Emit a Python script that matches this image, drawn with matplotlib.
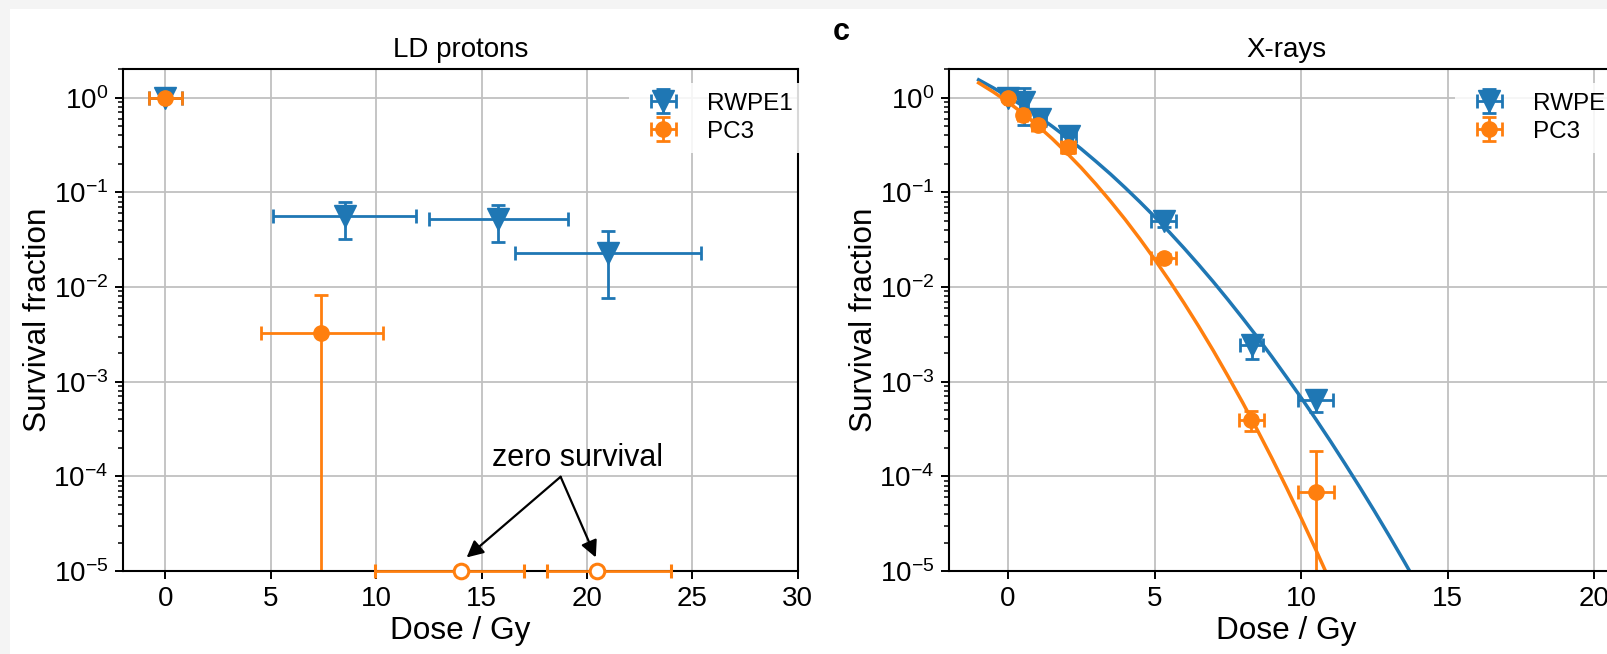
import matplotlib
matplotlib.use("Agg")
import matplotlib.pyplot as plt
from matplotlib.patches import Rectangle

plt.rcParams['font.family'] = ['Liberation Sans', 'DejaVu Sans']
plt.rcParams['mathtext.fontset'] = 'custom'
plt.rcParams['mathtext.rm'] = 'Liberation Sans'

BLUE = '#1f77b4'
ORANGE = '#ff7f0e'

# LD protons, RWPE1
ld_rwpe_dose = [0.0, 8.5, 15.8, 21.0]
ld_rwpe_sf = [1.0, 0.056, 0.052, 0.023]
ld_rwpe_xlo = [0.8, 3.38, 3.31, 4.4]
ld_rwpe_xhi = [0.8, 3.38, 3.28, 4.4]
ld_rwpe_ylo = [0.05, 0.024, 0.022, 0.0153]
ld_rwpe_yhi = [0.05, 0.023, 0.022, 0.0158]

# LD protons, PC3
ld_pc3_dose = [0.0, 7.4]
ld_pc3_sf = [1.0, 0.0033]
ld_pc3_xlo = [0.79, 2.86]
ld_pc3_xhi = [0.79, 2.91]
ld_pc3_ylo = [0.05, 0.0033]
ld_pc3_yhi = [0.05, 0.005]

# LD protons, PC3 with zero survival (drawn on the axis floor)
zero_dose = [14.0, 20.46]
zero_sf = [1e-5, 1e-5]
zero_xlo = [4.05, 2.36]
zero_xhi = [3.0, 3.53]

# X-rays, RWPE1
xr_rwpe_dose = [0.0, 0.55, 1.1, 2.07, 5.31, 8.31, 10.5]
xr_rwpe_sf = [1.0, 0.90, 0.60, 0.39, 0.0495, 0.00245, 0.00064]
xr_rwpe_xerr = [0.1, 0.15, 0.2, 0.25, 0.43, 0.4, 0.6]
xr_rwpe_ylo = [0.08, 0.38, 0.1, 0.06, 0.006, 0.0007, 0.00016]
xr_rwpe_yhi = [0.08, 0.38, 0.1, 0.06, 0.006, 0.0005, 0.0001]

# X-rays, PC3
xr_pc3_dose = [0.0, 0.51, 1.01, 2.05, 5.31, 8.3, 10.5]
xr_pc3_sf = [1.0, 0.655, 0.51, 0.30, 0.0202, 0.00039, 6.8e-5]
xr_pc3_xerr = [0.1, 0.15, 0.2, 0.25, 0.42, 0.42, 0.62]
xr_pc3_ylo = [0.06, 0.06, 0.05, 0.04, 0.002, 0.00009, 6.8e-5]
xr_pc3_yhi = [0.06, 0.06, 0.05, 0.04, 0.002, 0.0001, 0.000119]

# fitted survival curves
fit_rwpe_dose = [-1, -0.5, 0, 0.5, 1, 1.5, 2, 2.5, 3, 3.5, 4, 4.5, 5, 5.5,
                 6, 6.5, 7, 7.5, 8, 8.5, 9, 9.5, 10, 10.5, 11, 11.5, 12,
                 12.5, 13, 13.5, 14]
fit_rwpe_sf = [1.549, 1.273, 1.031, 0.823, 0.647, 0.502, 0.383, 0.288,
               0.213, 0.156, 0.112, 0.0794, 0.0555, 0.0382, 0.0259, 0.0173,
               0.0114, 0.00738, 0.00471, 0.00297, 0.00184, 0.00112,
               6.77e-4, 4.02e-4, 2.35e-4, 1.35e-4, 7.67e-5, 4.29e-5,
               2.36e-5, 1.28e-5, 6.86e-6]
fit_pc3_dose = [-1, -0.5, 0, 0.5, 1, 1.5, 2, 2.5, 3, 3.5, 4, 4.5, 5, 5.5,
                6, 6.5, 7, 7.5, 8, 8.5, 9, 9.5, 10, 10.5, 11]
fit_pc3_sf = [1.439, 1.153, 0.902, 0.688, 0.512, 0.372, 0.263, 0.182,
              0.1225, 0.0805, 0.0517, 0.0323, 0.0197, 0.01174, 0.00682,
              0.00387, 0.00214, 0.00115, 6.06e-4, 3.11e-4, 1.56e-4,
              7.60e-5, 3.62e-5, 1.68e-5, 7.63e-6]

W, H = 1608, 654
fig = plt.figure(figsize=(W / 100, H / 100), dpi=100)
fig.patch.set_facecolor('#f4f4f4')
fig.add_artist(Rectangle((10 / W, 0), 1, 1 - 9 / H, transform=fig.transFigure,
                         facecolor='white', edgecolor='none', zorder=-1))

ax_w, ax_h = 674.4 / W, 501.7 / H
ax_b = 1 - 571 / H
ax1 = fig.add_axes([123.3 / W, ax_b, ax_w, ax_h])
ax2 = fig.add_axes([949.3 / W, ax_b, ax_w, ax_h])

eb = dict(elinewidth=2.0, capsize=5, capthick=2.0, linestyle='none')
TICK = 20


def style_axes(ax, title, xmax, xticks):
    ax.set_yscale('log')
    ax.set_ylim(1e-5, 2)
    ax.set_xlim(-2, xmax)
    ax.set_xticks(xticks)
    ax.grid(True, which='major', color='#c0c0c0', lw=1.3)
    ax.set_axisbelow(True)
    for s in ax.spines.values():
        s.set_linewidth(1.5)
    ax.tick_params(axis='both', which='major', direction='out', length=6,
                   width=1.4, labelsize=TICK, pad=5)
    ax.tick_params(axis='y', which='minor', direction='out', length=3.5,
                   width=1.1)
    ax.set_title(title, fontsize=20, pad=9)
    ax.set_xlabel('Dose / Gy', fontsize=22.7, labelpad=3)
    ax.set_ylabel('Survival fraction', fontsize=22.7, labelpad=0)
    ax.legend(loc='upper right', bbox_to_anchor=(1.0074, 0.9727),
              fontsize=17.5, borderaxespad=0, labelspacing=0.25,
              framealpha=0.85, edgecolor='none', fancybox=False)


# left panel: LD protons
ax1.errorbar(ld_rwpe_dose, ld_rwpe_sf, xerr=[ld_rwpe_xlo, ld_rwpe_xhi],
             yerr=[ld_rwpe_ylo, ld_rwpe_yhi], color=BLUE, marker='v', ms=16,
             label='RWPE1', **eb)
ax1.errorbar(ld_pc3_dose, ld_pc3_sf, xerr=[ld_pc3_xlo, ld_pc3_xhi],
             yerr=[ld_pc3_ylo, ld_pc3_yhi], color=ORANGE, marker='o', ms=11,
             label='PC3', **eb)
zero = ax1.errorbar(zero_dose, zero_sf, xerr=[zero_xlo, zero_xhi],
                    color=ORANGE, marker='o', ms=10.5, mfc='white', mew=2.2,
                    zorder=4, **eb)
for art in [zero.lines[0]] + list(zero.lines[1]) + list(zero.lines[2]):
    art.set_clip_on(False)

ax1.text(19.56, 1.285e-4, 'zero survival', ha='center', va='baseline',
         fontsize=22)
for hx in zero_dose:
    ax1.annotate('', xy=(hx + (0.29 if hx < 17 else -0.04), 1.39e-5),
                 xytext=(18.75, 9.9e-5),
                 arrowprops=dict(arrowstyle='-|>', color='black', lw=1.6,
                                 mutation_scale=25, shrinkA=0, shrinkB=0))
style_axes(ax1, 'LD protons', 30, [0, 5, 10, 15, 20, 25, 30])

# right panel: X-rays
ax2.plot(fit_rwpe_dose, fit_rwpe_sf, color=BLUE, lw=2.5)
ax2.plot(fit_pc3_dose, fit_pc3_sf, color=ORANGE, lw=2.5)
ax2.errorbar(xr_rwpe_dose, xr_rwpe_sf, xerr=xr_rwpe_xerr,
             yerr=[xr_rwpe_ylo, xr_rwpe_yhi], color=BLUE, marker='v', ms=16,
             label='RWPE1', **eb)
ax2.errorbar(xr_pc3_dose, xr_pc3_sf, xerr=xr_pc3_xerr,
             yerr=[xr_pc3_ylo, xr_pc3_yhi], color=ORANGE, marker='o', ms=11,
             label='PC3', **eb)
style_axes(ax2, 'X-rays', 21, [0, 5, 10, 15, 20])

fig.text(833 / W, 1 - 40 / H, 'c', fontsize=22, fontweight='bold',
         va='baseline', ha='left')

fig.savefig('out.png', dpi=100, facecolor=fig.get_facecolor())
